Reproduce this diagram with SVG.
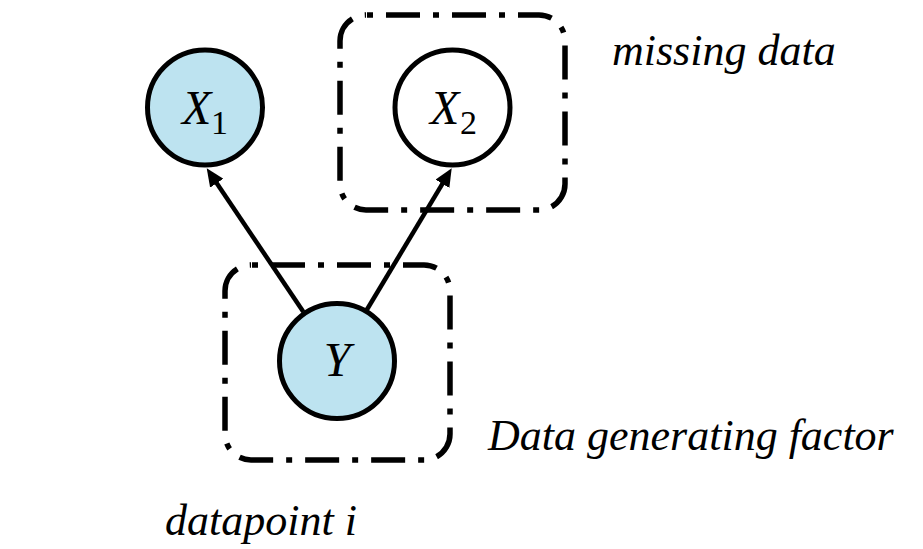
<svg xmlns="http://www.w3.org/2000/svg" width="923" height="549" viewBox="0 0 923 549">
  <defs>
    <style>
      .plate { fill: none; stroke: #000; stroke-width: 5.5; stroke-dasharray: 34 13 6 13; stroke-dashoffset: 46; }
      .node-obs { fill: #BDE3F0; stroke: #000; stroke-width: 5; }
      .node-hid { fill: #FFFFFF; stroke: #000; stroke-width: 5; }
      .edge { fill: none; stroke: #000; stroke-width: 4.5; marker-end: url(#head); }
      .math { font-family: "Liberation Serif", "Times New Roman", serif; font-style: italic; font-size: 48px; fill: #000; }
      .sub { font-family: "Liberation Serif", "Times New Roman", serif; font-style: normal; font-size: 34px; fill: #000; }
      .label { font-family: "Liberation Serif", "Times New Roman", serif; font-style: italic; font-size: 44px; fill: #000; }
    </style>
    <marker id="head" markerUnits="userSpaceOnUse" viewBox="0 0 18 16" markerWidth="18" markerHeight="16" refX="3" refY="8" orient="auto">
      <path d="M0,0 L18,8 L0,16 Z" fill="#000"/>
    </marker>
  </defs>

  <!-- dash-dot plates -->
  <g id="plate-missing">
    <rect class="plate" x="340" y="15" width="225" height="195" rx="26" ry="26"/>
    <text class="label" x="612" y="65">missing data</text>
  </g>
  <g id="plate-factor">
    <rect class="plate" x="225" y="265" width="225" height="195" rx="26" ry="26"/>
    <text class="label" x="488" y="450">Data generating factor</text>
  </g>
  <g id="label-datapoint">
    <text class="label" x="165" y="535">datapoint i</text>
  </g>

  <!-- connectors -->
  <g id="edges">
    <line class="edge" x1="303.3" y1="311.7" x2="215.1" y2="180.7"/>
    <line class="edge" x1="366.7" y1="310" x2="444" y2="181.2"/>
  </g>

  <!-- nodes -->
  <g id="node-x1">
    <circle class="node-obs" cx="205" cy="107.5" r="57.5"/>
    <text class="math" x="182" y="124">X</text>
    <text class="sub" x="211" y="134">1</text>
  </g>
  <g id="node-x2">
    <circle class="node-hid" cx="452.5" cy="107.5" r="57.5"/>
    <text class="math" x="430" y="124">X</text>
    <text class="sub" x="460" y="134">2</text>
  </g>
  <g id="node-y">
    <circle class="node-obs" cx="337" cy="361" r="57.5"/>
    <text class="math" x="337" y="376" text-anchor="middle">Y</text>
  </g>
</svg>
